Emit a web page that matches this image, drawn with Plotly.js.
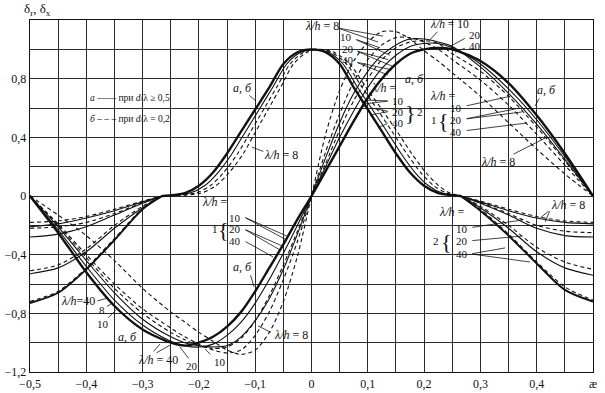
<!DOCTYPE html>
<html><head><meta charset="utf-8">
<script src="https://cdn.plot.ly/plotly-3.0.1.min.js"></script>
<style>html,body{margin:0;padding:0;background:#fff}#g{width:605px;height:393px}</style>
</head><body><div id="g"></div>
<script>
// ---- axis ticks ----
const xTickVals = [-0.5,-0.45,-0.4,-0.35,-0.3,-0.25,-0.2,-0.15,-0.1,-0.05,0,0.05,0.1,0.15,0.2,0.25,0.3,0.35,0.4,0.45,0.5];
const xTickText = ['−0,5','','−0,4','','−0,3','','−0,2','','−0,1','','0','','0,1','','0,2','','0,3','','0,4','','æ'];
const yTickVals = [-1.2,-1.0,-0.8,-0.6,-0.4,-0.2,0,0.2,0.4,0.6,0.8,1.0,1.2];
const yTickText = ['−1,2','','−0,8','','−0,4','','0','','0,4','','0,8','',''];

// ---- bell-shaped family (central part) ----
const bellY  = [0,0.02,0.07,0.16,0.29,0.44,0.59,0.74,0.9,0.98,1.0,0.98,0.9,0.74,0.59,0.44,0.29,0.16,0.07,0.02,0];
const bellXa = [-0.265,-0.225,-0.2,-0.175,-0.15,-0.125,-0.1,-0.075,-0.05,-0.025,0,0.025,0.05,0.075,0.1,0.125,0.15,0.175,0.2,0.225,0.265];
const bellXb = [-0.265,-0.216,-0.19,-0.166,-0.141,-0.117,-0.093,-0.069,-0.044,-0.019,0.005,0.03,0.056,0.082,0.108,0.134,0.159,0.184,0.208,0.232,0.265];
const bellXc = [-0.265,-0.206,-0.18,-0.156,-0.131,-0.108,-0.085,-0.062,-0.038,-0.014,0.009,0.035,0.062,0.09,0.117,0.143,0.169,0.194,0.217,0.24,0.265];
const bellXd = [-0.265,-0.196,-0.17,-0.146,-0.121,-0.099,-0.077,-0.055,-0.032,-0.008,0.014,0.04,0.068,0.097,0.125,0.152,0.178,0.203,0.226,0.246,0.265];

// ---- bell tails (|æ| > 0.26) ----
const tailXL = [-0.5,-0.45,-0.4,-0.35,-0.3,-0.265];
const tailXR = [0.265,0.3,0.35,0.4,0.45,0.5];
const t1sL = [-0.21,-0.19,-0.15,-0.1,-0.04,0];   const t1sR = [0,-0.04,-0.1,-0.15,-0.18,-0.19];
const t1dL = [-0.18,-0.17,-0.14,-0.09,-0.035,0]; const t1dR = [0,-0.035,-0.09,-0.14,-0.17,-0.18];
const t2sL = [-0.28,-0.26,-0.21,-0.13,-0.05,0];  const t2sR = [0,-0.05,-0.13,-0.22,-0.27,-0.28];
const t2dL = [-0.22,-0.21,-0.18,-0.12,-0.045,0]; const t2dR = [0,-0.045,-0.12,-0.2,-0.24,-0.25];
const t3sL = [-0.53,-0.49,-0.38,-0.22,-0.08,0];  const t3sR = [0,-0.08,-0.22,-0.38,-0.49,-0.54];
const t3dL = [-0.51,-0.47,-0.36,-0.2,-0.07,0];   const t3dR = [0,-0.07,-0.2,-0.35,-0.45,-0.5];
const t4sL = [-0.73,-0.66,-0.5,-0.3,-0.09,0];    const t4sR = [0,-0.1,-0.27,-0.46,-0.64,-0.72];
const t4dL = [-0.72,-0.65,-0.49,-0.29,-0.085,0]; const t4dR = [0,-0.09,-0.26,-0.45,-0.62,-0.71];

// ---- antisymmetric family ----
const dxX = [-0.5,-0.45,-0.4,-0.35,-0.3,-0.25,-0.225,-0.2,-0.175,-0.15,-0.125,-0.1,-0.075,-0.05,-0.025,0,0.025,0.05,0.075,0.1,0.125,0.15,0.175,0.2,0.225,0.25,0.3,0.35,0.4,0.45,0.5];
const d1 = [0,-0.25,-0.52,-0.75,-0.91,-1.0,-1.02,-1.0,-0.96,-0.89,-0.79,-0.65,-0.49,-0.33,-0.16,0,0.17,0.34,0.51,0.67,0.8,0.9,0.97,1.0,1.01,1.0,0.92,0.77,0.55,0.29,0];
const d2 = [0,-0.23,-0.48,-0.71,-0.88,-0.99,-1.02,-1.03,-1.01,-0.95,-0.86,-0.73,-0.57,-0.39,-0.2,0,0.2,0.4,0.58,0.74,0.87,0.96,1.02,1.04,1.04,1.01,0.9,0.73,0.52,0.27,0];
const d3 = [0,-0.21,-0.44,-0.66,-0.84,-0.96,-1.0,-1.02,-1.03,-1.02,-0.96,-0.85,-0.7,-0.5,-0.26,0,0.26,0.5,0.7,0.85,0.96,1.03,1.07,1.07,1.05,1.02,0.88,0.7,0.49,0.25,0];
const d4 = [0,-0.2,-0.42,-0.63,-0.8,-0.93,-0.98,-1.02,-1.04,-1.03,-0.97,-0.85,-0.68,-0.47,-0.24,0,0.22,0.45,0.65,0.8,0.93,1.01,1.05,1.06,1.04,0.97,0.85,0.68,0.47,0.24,0];
const d5 = [0,-0.19,-0.4,-0.6,-0.77,-0.9,-0.96,-1.01,-1.05,-1.07,-1.05,-0.95,-0.79,-0.57,-0.31,0,0.3,0.56,0.78,0.93,1.03,1.08,1.08,1.05,1.0,0.93,0.79,0.62,0.42,0.21,0];
const d6 = [0,-0.13,-0.27,-0.44,-0.63,-0.79,-0.86,-0.93,-0.99,-1.05,-1.08,-1.05,-0.93,-0.72,-0.41,0,0.42,0.72,0.92,1.05,1.12,1.12,1.07,0.99,0.92,0.84,0.68,0.5,0.32,0.15,0];

const INK = '#111111';
function tr(x, y, dashed, w) {
  return {type:'scatter', mode:'lines', x:x, y:y, hoverinfo:'skip', showlegend:false,
    line:{color:INK, width:w||1.1, dash: dashed ? '4px,3px' : 'solid', shape:'spline', smoothing:0.8}};
}
const traces = [
  tr(bellXa, bellY, false, 2.4), tr(bellXb, bellY, false), tr(bellXc, bellY, true), tr(bellXd, bellY, true),
  tr(tailXL, t1sL, false), tr(tailXR, t1sR, false), tr(tailXL, t1dL, true), tr(tailXR, t1dR, true),
  tr(tailXL, t2sL, false), tr(tailXR, t2sR, false), tr(tailXL, t2dL, true), tr(tailXR, t2dR, true),
  tr(tailXL, t3sL, false), tr(tailXR, t3sR, false), tr(tailXL, t3dL, true), tr(tailXR, t3dR, true),
  tr(tailXL, t4sL, false, 1.9), tr(tailXR, t4sR, false, 1.9), tr(tailXL, t4dL, true), tr(tailXR, t4dR, true),
  tr(dxX, d1, false, 2.4), tr(dxX, d2, false), tr(dxX, d3, false),
  tr(dxX, d4, true), tr(dxX, d5, true), tr(dxX, d6, true)
];

const F = 'Liberation Serif, Times New Roman, serif';
function txt(x, y, t, size, xa) {
  return {x:x, y:y, text:t, showarrow:false, xanchor:xa||'center', yanchor:'middle',
    font:{family:F, size:size||12, color:INK}};
}
function arr(x0, y0, x1, y1) {
  return {x:x1, y:y1, ax:x0, ay:y0, axref:'x', ayref:'y', text:'', showarrow:true,
    arrowhead:0, arrowwidth:0.8, arrowcolor:INK};
}
const L = '<i>λ/h</i>';
const ann = [
  {xref:'paper', yref:'paper', x:0.014, y:1.03, text:'δ<sub>r</sub>, δ<sub>x</sub>', showarrow:false,
   xanchor:'center', yanchor:'middle', font:{family:F, size:13, color:INK}},
  // legend
  txt(-0.322, 0.668, '<i>а</i> —— при <i>d</i>/λ ≥ 0,5', 9.5),
  txt(-0.322, 0.525, '<i>б</i> – – – при <i>d</i>/λ = 0,2', 9.5),
  // top left group
  txt(0.019, 1.16, L + ' = 8'), txt(0.062, 1.085, '10', 11), txt(0.065, 1.005, '20', 11), txt(0.065, 0.925, '40', 11),
  arr(0.047,1.145,0.127,1.09), arr(0.047,1.145,0.118,1.05),
  arr(0.077,1.07,0.122,1.01), arr(0.077,1.07,0.139,0.96),
  arr(0.079,0.99,0.136,0.93), arr(0.079,0.99,0.143,0.886),
  arr(0.079,0.913,0.143,0.86), arr(0.079,0.913,0.136,0.825),
  // top right group
  txt(0.245, 1.17, L + ' = 10', 11.5), txt(0.29, 1.095, '20', 11), txt(0.29, 1.02, '40', 11),
  arr(0.226,1.13,0.21,1.063), arr(0.275,1.08,0.246,1.02), arr(0.275,1.012,0.255,0.98),
  txt(0.183, 0.8, '<i>а, б</i>'),
  // group 2 on bell
  txt(0.128, 0.735, L + ' ='), txt(0.153, 0.645, '10', 11), txt(0.153, 0.57, '20', 11), txt(0.153, 0.495, '40', 11),
  txt(0.176, 0.57, '}', 22), txt(0.192, 0.57, '2', 11),
  arr(0.138,0.648,0.097,0.654), arr(0.138,0.648,0.093,0.627),
  arr(0.138,0.576,0.107,0.6), arr(0.138,0.576,0.104,0.552),
  arr(0.138,0.5,0.118,0.464),
  // group 1 right
  txt(0.234, 0.68, L + ' ='), txt(0.217, 0.518, '1', 11), txt(0.234, 0.518, '{', 22),
  txt(0.257, 0.6, '10', 11), txt(0.257, 0.518, '20', 11), txt(0.257, 0.436, '40', 11),
  arr(0.273,0.613,0.353,0.68), arr(0.273,0.525,0.37,0.6), arr(0.273,0.525,0.374,0.573), arr(0.273,0.445,0.383,0.498),
  txt(0.418, 0.72, '<i>а, б</i>'), arr(0.406,0.675,0.397,0.613),
  txt(0.331, 0.23, L + ' = 8'), arr(0.356,0.28,0.415,0.395),
  // right tails
  txt(0.456, -0.061, L + ' = 8'), arr(0.424,-0.095,0.406,-0.15), arr(0.424,-0.095,0.415,-0.177),
  txt(0.25, -0.109, L + ' ='), txt(0.222, -0.31, '2', 11), txt(0.24, -0.31, '{', 22),
  txt(0.267, -0.222, '10', 11), txt(0.267, -0.31, '20', 11), txt(0.267, -0.398, '40', 11),
  arr(0.283,-0.215,0.374,-0.164), arr(0.283,-0.305,0.374,-0.273),
  arr(0.283,-0.395,0.344,-0.354), arr(0.283,-0.395,0.388,-0.45),
  // left side labels
  txt(-0.054, 0.28, L + ' = 8'), arr(-0.083,0.3,-0.106,0.334),
  txt(-0.122, 0.736, '<i>а, б</i>'), arr(-0.113,0.695,-0.099,0.648),
  txt(-0.171, -0.041, L + ' ='), txt(-0.172, -0.226, '1', 11), txt(-0.156, -0.226, '{', 22),
  txt(-0.136, -0.148, '10', 11), txt(-0.136, -0.228, '20', 11), txt(-0.136, -0.308, '40', 11),
  arr(-0.12,-0.143,-0.044,-0.273), arr(-0.12,-0.143,-0.044,-0.3),
  arr(-0.12,-0.225,-0.052,-0.341), arr(-0.12,-0.225,-0.056,-0.368),
  arr(-0.12,-0.305,-0.068,-0.416),
  txt(-0.122, -0.484, '<i>а, б</i>'), arr(-0.109,-0.53,-0.102,-0.62),
  txt(-0.036, -0.948, L + ' = 8'), arr(-0.07,-0.934,-0.095,-0.886),
  // bottom labels
  txt(-0.273, -1.118, L + ' = 40'), arr(-0.283,-1.07,-0.269,-1.009), arr(-0.278,-1.075,-0.251,-1.016),
  txt(-0.212, -1.158, '20', 11), arr(-0.216,-1.118,-0.234,-1.029),
  txt(-0.163, -1.135, '10', 11), arr(-0.177,-1.09,-0.189,-1.043),
  txt(-0.415, -0.718, L + '=40'), arr(-0.383,-0.718,-0.361,-0.695),
  txt(-0.372, -0.78, '8', 11), arr(-0.366,-0.76,-0.354,-0.73),
  txt(-0.37, -0.87, '10', 11), arr(-0.364,-0.84,-0.347,-0.777),
  txt(-0.326, -0.961, '<i>а, б</i>')
];

const layout = {
  width:605, height:393, margin:{l:30, r:12, t:20, b:21},
  paper_bgcolor:'#fff', plot_bgcolor:'#fff', showlegend:false,
  font:{family:F, size:12, color:INK},
  xaxis:{range:[-0.5,0.5], tickmode:'array', tickvals:xTickVals, ticktext:xTickText,
    showgrid:true, gridcolor:'#2a2a2a', gridwidth:1, zeroline:false,
    showline:true, linecolor:INK, linewidth:1.3, mirror:true, ticks:'', tickfont:{family:F, size:12, color:INK}},
  yaxis:{range:[-1.2,1.2], tickmode:'array', tickvals:yTickVals, ticktext:yTickText,
    showgrid:true, gridcolor:'#2a2a2a', gridwidth:1, zeroline:false,
    showline:true, linecolor:INK, linewidth:1.3, mirror:true, ticks:'', tickfont:{family:F, size:12, color:INK}},
  shapes:[{type:'rect', xref:'paper', yref:'paper', x0:0.0995, x1:0.252, y0:0.6875, y1:0.832,
    fillcolor:'#fff', line:{width:0}, layer:'below'}],
  annotations:ann
};
Plotly.newPlot('g', traces, layout, {staticPlot:true, displayModeBar:false});
</script></body></html>
